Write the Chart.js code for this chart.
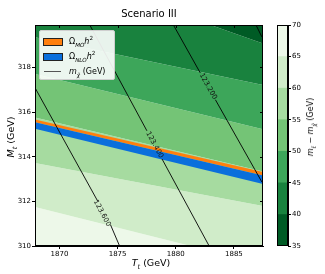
<!DOCTYPE html>
<html>
<head>
<meta charset="utf-8">
<script src="https://cdn.jsdelivr.net/npm/chart.js@4.4.1/dist/chart.umd.min.js"></script>
<style>
  body { margin: 0; background: #fff; font-family: "DejaVu Sans", sans-serif; }
  #wrap { position: relative; width: 325px; height: 274px; overflow: hidden; }
  canvas { position: absolute; top: 0; }
  .lbl { position: absolute; color: #000; white-space: nowrap; line-height: 1; }
  sub, sup { font-size: 70%; line-height: 0; }
  #title { left: 149px; top: 14px; font-size: 10px; transform: translate(-50%, -50%); }
  #xlab { left: 151px; top: 263px; font-size: 9.5px; transform: translate(-50%, -50%); }
  #ylab { left: 11px; top: 137px; font-size: 9.5px; transform: translate(-50%, -50%) rotate(-90deg); }
  #clab { left: 311px; top: 127px; font-size: 8px; transform: translate(-50%, -50%) rotate(-90deg); }
  #legend {
    position: absolute; left: 39px; top: 30px; width: 76px; height: 50px; box-sizing: border-box;
    border: 1px solid #cfcfcf; border-radius: 2px; background: rgba(255,255,255,0.9);
    font-size: 8px; padding-top: 3px;
  }
  #legend .row { height: 15px; display: flex; align-items: center; }
  #legend .patch { width: 18px; height: 6px; margin: 0 6px 0 3px; border: 0.6px solid #222; }
  #legend .ln { width: 17px; height: 0; margin: 0 8px 0 4px; border-top: 1px solid #555; }
</style>
</head>
<body>
<div id="wrap">
  <canvas id="main" width="325" height="274" style="left:0"></canvas>
  <canvas id="cbar" width="48" height="274" style="left:277px"></canvas>
  <div class="lbl" id="title">Scenario III</div>
  <div class="lbl" id="xlab"><i>T</i><sub><i>t</i></sub> (GeV)</div>
  <div class="lbl" id="ylab"><i>M</i><sub><i>t</i></sub> (GeV)</div>
  <div class="lbl" id="clab"><i>m</i><sub><i>t̃</i></sub> − <i>m</i><sub><i>χ̃</i></sub> (GeV)</div>
  <div id="legend">
    <div class="row"><span class="patch" style="background:#ff7f0e"></span><span>Ω<sub><i>MO</i></sub><i>h</i><sup>2</sup></span></div>
    <div class="row"><span class="patch" style="background:#0a6fdc"></span><span>Ω<sub><i>NLO</i></sub><i>h</i><sup>2</sup></span></div>
    <div class="row"><span class="ln"></span><span><i>m</i><sub><i>χ̃</i></sub> (GeV)</span></div>
  </div>
</div>
<script>
// axes
const xMin = 1867.9, xMax = 1887.5;
const yMin = 310, yMax = 319.9;
const xTicks = [1870, 1875, 1880, 1885];
const yTicks = [310, 312, 314, 316, 318];

// colour levels of m_stop - m_chi (GeV), Greens_r
const levels = [35, 40, 45, 50, 55, 60, 65, 70];
const levelColors = ['#005b25', '#19823e', '#3da65a', '#74c476', '#a6dba0', '#d0ecc9', '#edf8e9'];

// level boundaries: Mt at left edge (Tt = xMin) and right edge (Tt = xMax)
const boundaryLevels = [65, 60, 55, 50, 45, 40];
const boundaryLeft  = [311.75, 313.72, 315.76, 317.71, 319.35, 322.68];
const boundaryRight = [309.19, 311.79, 313.34, 315.23, 317.21, 319.07];

// relic density bands [lower, upper]
const moLeft  = [315.54, 315.67];
const moRight = [313.16, 313.32];
const nloLeft  = [315.25, 315.54];
const nloRight = [312.78, 313.16];

// m_chi contour lines (Tt, Mt), null = gap under the label
const contourLines = [
  [[1867.9, 317.09], [1873.30, 312.0], null, [1874.40, 310.94], [1875.17, 310]],
  [[1872.60, 319.91], [1877.52, 315.16], null, [1878.82, 313.90], [1882.87, 310]],
  [[1879.79, 319.91], [1882.10, 317.76], null, [1883.41, 316.55], [1887.40, 312.87]],
  [[1886.89, 319.91], [1887.40, 319.37]]
];
const contourText = ['123.600', '123.400', '123.200'];
const labelTt = [1873.66, 1878.18, 1882.78];
const labelMt = [311.47, 314.53, 317.15];

Chart.defaults.font.family = '"DejaVu Sans", sans-serif';
Chart.defaults.color = '#000';

const edge = (l, r) => [{ x: xMin, y: l }, { x: xMax, y: r }];
const colorFor = lo => levelColors[levels.indexOf(lo)];

const datasets = [];
boundaryLevels.forEach((lv, i) => {
  datasets.push({
    data: edge(boundaryLeft[i], boundaryRight[i]),
    fill: i === 0 ? 'start' : '-1',
    backgroundColor: colorFor(lv)
  });
});
// top-most region above the last boundary
datasets.push({
  data: edge(boundaryLeft[boundaryLeft.length - 1], boundaryRight[boundaryRight.length - 1]),
  fill: 'end', backgroundColor: colorFor(35)
});
datasets.push({ data: edge(moLeft[0], moRight[0]), fill: false });
datasets.push({ data: edge(moLeft[1], moRight[1]), fill: '-1', backgroundColor: '#ff7f0e' });
datasets.push({ data: edge(nloLeft[0], nloRight[0]), fill: false });
datasets.push({ data: edge(nloLeft[1], nloRight[1]), fill: '-1', backgroundColor: '#0a6fdc' });
datasets.forEach(d => { d.borderColor = 'rgba(0,0,0,0)'; d.borderWidth = 0; });

contourLines.forEach(line => {
  datasets.push({
    data: line.map(p => p ? { x: p[0], y: p[1] } : { x: null, y: null }),
    borderColor: '#000', borderWidth: 0.9, fill: false, spanGaps: false
  });
});
// later datasets on top
datasets.forEach((d, i) => { d.order = datasets.length - i; });

// frame with inward ticks on top/right, and inline contour labels
const frame = {
  id: 'frame',
  afterDatasetsDraw(chart) {
    const { ctx, chartArea: a, scales } = chart;
    ctx.save();
    ctx.strokeStyle = '#000';
    ctx.lineWidth = 1;
    ctx.strokeRect(Math.round(a.left) + 0.5, Math.round(a.top) + 0.5,
      Math.round(a.right - a.left) - 1, Math.round(a.bottom - a.top) - 1);
    if (chart.canvas.id === 'main') {
      ctx.beginPath();
      xTicks.forEach(v => {
        const px = Math.round(scales.x.getPixelForValue(v)) + 0.5;
        ctx.moveTo(px, a.top); ctx.lineTo(px, a.top + 3);
      });
      yTicks.forEach(v => {
        const py = Math.round(scales.y.getPixelForValue(v)) + 0.5;
        ctx.moveTo(a.right, py); ctx.lineTo(a.right - 3, py);
      });
      ctx.stroke();

      ctx.font = '7px "DejaVu Sans"';
      ctx.fillStyle = '#111';
      ctx.textAlign = 'center';
      ctx.textBaseline = 'middle';
      contourText.forEach((t, i) => {
        const line = contourLines[i];
        const p0 = line[0], p1 = line[line.length - 1];
        const ang = Math.atan2(
          scales.y.getPixelForValue(p1[1]) - scales.y.getPixelForValue(p0[1]),
          scales.x.getPixelForValue(p1[0]) - scales.x.getPixelForValue(p0[0]));
        ctx.save();
        ctx.translate(scales.x.getPixelForValue(labelTt[i]), scales.y.getPixelForValue(labelMt[i]));
        ctx.rotate(ang);
        ctx.fillText(t, 0, 0);
        ctx.restore();
      });
    }
    ctx.restore();
  }
};

const tickCfg = { font: { size: 7 }, padding: 1, maxRotation: 0, callback: v => String(v) };
const gridCfg = { drawOnChartArea: false, tickLength: 3, tickColor: '#000' };

new Chart(document.getElementById('main'), {
  type: 'line',
  data: { datasets },
  options: {
    responsive: false, animation: false,
    layout: { padding: { top: 25, right: 62, left: 0, bottom: 0 } },
    elements: { point: { radius: 0, hoverRadius: 0 }, line: { tension: 0 } },
    plugins: { legend: { display: false }, tooltip: { enabled: false }, filler: { propagate: false } },
    scales: {
      x: {
        type: 'linear', min: xMin, max: xMax,
        afterBuildTicks: s => { s.ticks = xTicks.map(v => ({ value: v })); },
        afterFit: s => { s.height = 28; },
        ticks: tickCfg, grid: gridCfg, border: { color: '#000' }
      },
      y: {
        type: 'linear', min: yMin, max: yMax,
        afterBuildTicks: s => { s.ticks = yTicks.map(v => ({ value: v })); },
        afterFit: s => { s.width = 35; },
        ticks: tickCfg, grid: gridCfg, border: { color: '#000' }
      }
    }
  },
  plugins: [frame]
});

// colour bar
new Chart(document.getElementById('cbar'), {
  type: 'bar',
  data: {
    labels: [''],
    datasets: levelColors.map((c, i) => ({
      data: [[levels[i], levels[i + 1]]], backgroundColor: c, borderWidth: 0,
      barPercentage: 1, categoryPercentage: 1, grouped: false
    }))
  },
  options: {
    responsive: false, animation: false,
    layout: { padding: { top: 25, bottom: 28, left: 0, right: 0 } },
    plugins: { legend: { display: false }, tooltip: { enabled: false } },
    scales: {
      x: { display: false },
      y: {
        position: 'right', min: 35, max: 70,
        afterBuildTicks: s => { s.ticks = levels.map(v => ({ value: v })); },
        afterFit: s => { s.width = 37; },
        ticks: tickCfg, grid: gridCfg, border: { color: '#000' }
      }
    }
  },
  plugins: [frame]
});
</script>
</body>
</html>
